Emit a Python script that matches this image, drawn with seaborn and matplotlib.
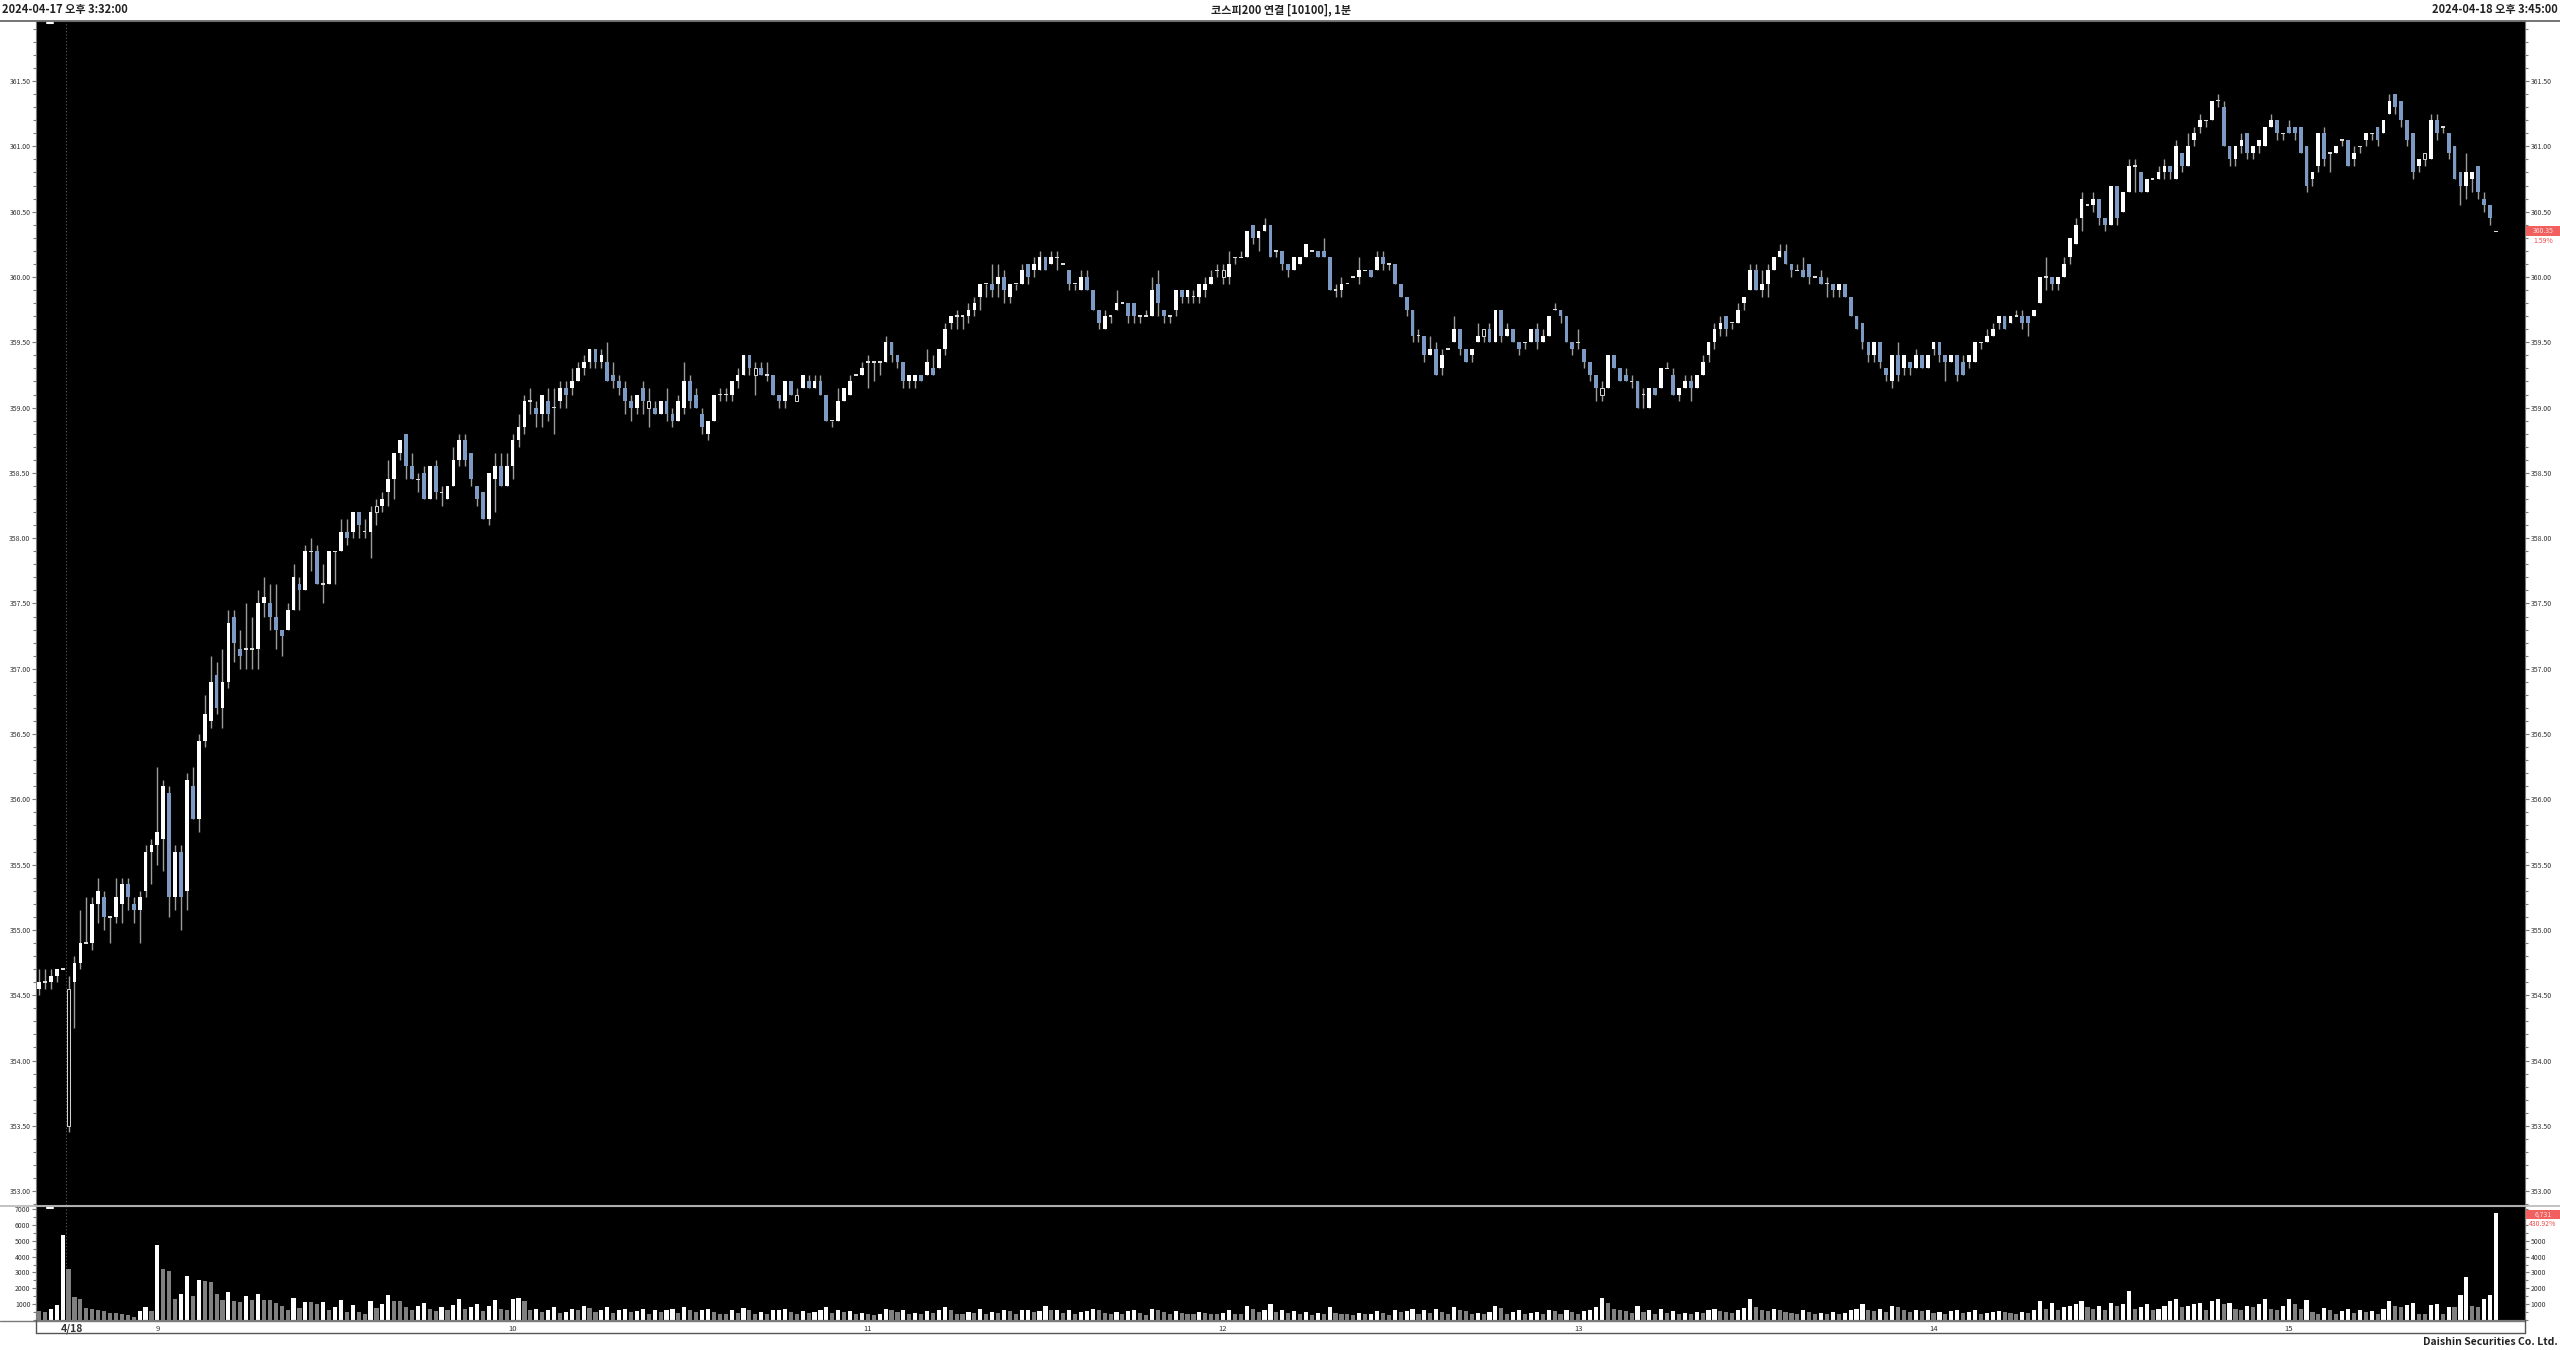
import numpy as np
import pandas as pd
import matplotlib
matplotlib.use('Agg')
import matplotlib.pyplot as plt
import seaborn as sns
from matplotlib.lines import Line2D
from matplotlib.patches import Rectangle
from matplotlib.ticker import MultipleLocator, FormatStrFormatter
import matplotlib.transforms as mtransforms

# 1분봉, 가격은 350.00 위로 0.05 틱 단위
open_t = [
    91, 92, 92, 93, 94, 70, 92, 95, 98, 98,
    104, 105, 102, 102, 104, 107, 104, 103, 106, 112,
    113, 114, 121, 105, 112, 106, 122, 117, 129, 132,
    139, 134, 138, 148, 143, 143, 143, 143, 150, 150,
    148, 146, 146, 149, 153, 152, 158, 158, 153, 153,
    158, 158, 161, 161, 164, 161, 161, 164, 165, 167,
    169, 173, 176, 171, 169, 170, 166, 171, 167, 166,
    168, 172, 175, 173, 168, 167, 163, 169, 171, 168,
    171, 175, 177, 181, 180, 179, 181, 180, 181, 183,
    183, 184, 186, 187, 189, 187, 187, 185, 184, 183,
    181, 180, 183, 180, 180, 179, 181, 179, 178, 180,
    184, 182, 179, 176, 178, 182, 182, 182, 184, 185,
    188, 185, 186, 185, 185, 182, 181, 184, 181, 183,
    184, 183, 184, 182, 178, 178, 181, 182, 185, 185,
    187, 187, 187, 187, 190, 188, 187, 184, 184, 185,
    185, 186, 186, 189, 193, 194, 194, 194, 195, 197,
    199, 199, 199, 200, 197, 199, 199, 202, 201, 201,
    203, 202, 203, 202, 201, 199, 198, 200, 198, 195,
    192, 194, 195, 196, 196, 196, 194, 194, 194, 199,
    195, 194, 195, 198, 197, 197, 197, 198, 199, 201,
    200, 200, 203, 203, 203, 208, 206, 207, 208, 204,
    204, 202, 201, 202, 203, 204, 204, 204, 203, 198,
    198, 199, 200, 200, 201, 201, 201, 203, 202, 202,
    199, 197, 195, 191, 191, 188, 189, 186, 189, 190,
    192, 189, 188, 190, 191, 192, 190, 195, 191, 192,
    190, 190, 190, 192, 190, 191, 195, 195, 194, 190,
    190, 189, 187, 185, 182, 183, 188, 186, 185, 184,
    184, 182, 180, 183, 183, 186, 185, 182, 183, 184,
    183, 185, 188, 190, 192, 194, 193, 193, 196, 198,
    201, 198, 199, 201, 203, 204, 202, 201, 201, 202,
    200, 200, 199, 199, 198, 199, 197, 194, 193, 190,
    188, 190, 186, 184, 188, 186, 187, 186, 188, 186,
    189, 190, 188, 187, 188, 187, 187, 187, 190, 190,
    191, 193, 194, 193, 194, 194, 194, 194, 196, 200,
    200, 199, 200, 203, 205, 209, 211, 211, 212, 209,
    208, 214, 210, 213, 217, 216, 213, 215, 215, 216,
    217, 215, 219, 217, 221, 223, 224, 224, 227, 226,
    220, 218, 220, 222, 219, 220, 220, 223, 224, 222,
    223, 223, 223, 220, 215, 217, 222, 219, 219, 221,
    221, 218, 220, 221, 222, 223, 222, 225, 228, 227,
    224, 222, 217, 218, 218, 224, 223, 222, 220, 216,
    214, 215, 217, 212, 211, 207,
]
high_t = [
    94, 94, 94, 94, 94, 93, 96, 103, 105, 105,
    108, 106, 102, 108, 108, 108, 105, 106, 113, 114,
    125, 123, 122, 113, 113, 124, 125, 130, 136, 142,
    141, 143, 149, 149, 146, 150, 148, 152, 154, 153,
    153, 146, 150, 156, 154, 159, 160, 159, 156, 158,
    158, 163, 163, 164, 164, 163, 165, 166, 167, 172,
    173, 175, 176, 173, 170, 171, 171, 172, 168, 168,
    174, 176, 176, 173, 168, 167, 170, 173, 173, 173,
    176, 179, 182, 183, 181, 182, 183, 183, 184, 184,
    186, 187, 188, 189, 189, 189, 190, 187, 185, 184,
    182, 182, 184, 183, 181, 181, 183, 180, 182, 187,
    185, 183, 180, 178, 182, 183, 183, 184, 186, 188,
    188, 187, 187, 187, 185, 182, 184, 184, 183, 185,
    185, 185, 185, 182, 178, 183, 183, 185, 185, 187,
    188, 187, 187, 191, 190, 188, 187, 185, 185, 185,
    189, 188, 189, 193, 194, 195, 194, 196, 197, 199,
    199, 202, 202, 201, 199, 199, 202, 202, 203, 204,
    203, 204, 204, 202, 201, 199, 201, 201, 198, 195,
    195, 194, 198, 196, 196, 196, 194, 195, 200, 201,
    195, 194, 198, 198, 198, 198, 199, 200, 201, 202,
    202, 204, 203, 204, 207, 208, 207, 209, 208, 204,
    204, 202, 203, 203, 205, 204, 204, 206, 203, 199,
    200, 199, 200, 203, 201, 201, 204, 204, 202, 202,
    199, 197, 195, 192, 191, 191, 190, 189, 189, 194,
    192, 189, 189, 193, 192, 193, 195, 195, 193, 192,
    190, 190, 192, 193, 192, 194, 196, 195, 194, 190,
    192, 189, 187, 185, 184, 188, 188, 186, 186, 185,
    184, 183, 183, 183, 186, 187, 186, 183, 185, 185,
    185, 188, 190, 193, 194, 194, 193, 196, 197, 202,
    202, 201, 202, 203, 205, 205, 202, 202, 203, 202,
    200, 201, 200, 199, 199, 199, 197, 194, 193, 190,
    190, 190, 186, 188, 190, 188, 187, 189, 188, 188,
    190, 190, 188, 188, 188, 188, 188, 190, 190, 192,
    193, 194, 194, 194, 195, 195, 194, 195, 200, 203,
    200, 200, 203, 206, 209, 213, 211, 213, 212, 209,
    214, 214, 213, 218, 218, 216, 215, 215, 217, 218,
    217, 221, 219, 222, 223, 225, 224, 227, 228, 227,
    220, 220, 222, 222, 220, 221, 223, 225, 224, 222,
    224, 223, 223, 220, 216, 222, 223, 219, 220, 221,
    221, 220, 220, 222, 222, 223, 224, 228, 228, 227,
    224, 222, 218, 219, 225, 225, 223, 222, 220, 216,
    219, 216, 217, 213, 211, 207,
]
low_t = [
    90, 91, 91, 92, 94, 69, 85, 94, 98, 97,
    101, 100, 98, 101, 101, 103, 101, 98, 105, 107,
    110, 109, 102, 103, 100, 103, 117, 115, 128, 131,
    133, 131, 137, 141, 140, 140, 140, 140, 148, 146,
    143, 142, 146, 149, 149, 152, 155, 153, 150, 153,
    153, 158, 159, 160, 160, 160, 157, 162, 164, 165,
    166, 172, 169, 169, 167, 166, 166, 166, 165, 166,
    168, 171, 171, 168, 165, 163, 162, 164, 168, 168,
    169, 174, 176, 179, 177, 177, 178, 176, 180, 180,
    182, 184, 185, 186, 186, 186, 184, 183, 182, 179,
    178, 179, 179, 177, 179, 179, 178, 177, 178, 179,
    180, 180, 176, 175, 178, 181, 181, 181, 183, 185,
    185, 182, 185, 184, 182, 180, 180, 182, 181, 183,
    183, 183, 182, 178, 177, 178, 181, 182, 185, 185,
    183, 184, 185, 187, 187, 186, 183, 183, 183, 184,
    185, 185, 186, 188, 192, 192, 192, 193, 194, 195,
    197, 197, 197, 196, 196, 198, 199, 199, 200, 201,
    201, 202, 201, 202, 198, 198, 198, 198, 195, 192,
    192, 193, 195, 196, 193, 193, 193, 194, 194, 194,
    193, 193, 194, 196, 196, 196, 196, 197, 199, 200,
    199, 199, 202, 203, 203, 205, 204, 207, 203, 203,
    201, 200, 201, 202, 203, 204, 203, 203, 198, 197,
    197, 199, 200, 199, 201, 200, 201, 201, 201, 199,
    197, 194, 190, 190, 187, 188, 185, 185, 189, 190,
    188, 187, 187, 190, 190, 190, 190, 190, 191, 190,
    188, 189, 190, 189, 190, 191, 195, 193, 190, 188,
    189, 186, 184, 181, 181, 183, 186, 184, 184, 183,
    180, 180, 180, 182, 183, 186, 182, 181, 183, 181,
    183, 185, 187, 189, 191, 191, 192, 193, 195, 198,
    198, 197, 197, 201, 203, 202, 200, 201, 200, 199,
    200, 199, 197, 197, 197, 197, 194, 192, 189, 187,
    187, 186, 184, 183, 184, 185, 185, 186, 186, 186,
    188, 187, 184, 187, 184, 185, 186, 187, 189, 190,
    191, 192, 192, 193, 194, 192, 191, 194, 196, 198,
    198, 198, 200, 202, 205, 207, 211, 210, 208, 207,
    208, 208, 210, 213, 213, 213, 213, 215, 215, 215,
    215, 215, 216, 217, 220, 222, 223, 224, 226, 220,
    217, 217, 219, 218, 218, 219, 220, 223, 221, 221,
    222, 221, 219, 213, 214, 216, 217, 216, 219, 220,
    217, 217, 219, 220, 221, 220, 222, 225, 225, 223,
    220, 215, 216, 217, 218, 221, 222, 218, 215, 211,
    212, 213, 212, 210, 208, 207,
]
close_t = [
    92, 92, 93, 94, 94, 91, 95, 98, 98, 104,
    106, 102, 102, 105, 107, 105, 103, 105, 112, 113,
    115, 122, 105, 112, 105, 123, 117, 129, 133, 138,
    134, 138, 147, 144, 142, 143, 143, 150, 151, 148,
    146, 145, 149, 154, 152, 158, 158, 153, 153, 158,
    158, 161, 160, 164, 162, 161, 164, 165, 166, 169,
    173, 175, 171, 169, 169, 166, 171, 167, 167, 168,
    172, 175, 172, 169, 166, 163, 170, 171, 168, 171,
    175, 177, 181, 181, 179, 182, 179, 180, 183, 182,
    184, 186, 187, 189, 187, 188, 184, 184, 183, 181,
    180, 182, 181, 181, 179, 181, 179, 178, 181, 184,
    181, 180, 177, 178, 182, 182, 182, 184, 185, 188,
    186, 186, 185, 185, 182, 181, 184, 182, 182, 185,
    183, 184, 182, 178, 178, 181, 183, 184, 185, 186,
    187, 187, 187, 190, 188, 187, 184, 185, 185, 184,
    187, 185, 189, 192, 194, 194, 194, 195, 196, 199,
    199, 198, 200, 198, 199, 199, 201, 200, 202, 203,
    201, 203, 203, 202, 199, 199, 200, 198, 195, 193,
    194, 194, 196, 196, 194, 194, 194, 194, 198, 196,
    194, 194, 198, 197, 198, 197, 199, 199, 200, 201,
    201, 202, 203, 203, 207, 206, 207, 208, 203, 204,
    202, 201, 203, 203, 205, 204, 203, 203, 198, 198,
    199, 199, 200, 201, 201, 200, 203, 202, 202, 199,
    197, 195, 191, 191, 188, 189, 185, 188, 189, 192,
    189, 187, 189, 191, 192, 190, 195, 191, 192, 190,
    189, 190, 192, 190, 191, 194, 195, 194, 190, 189,
    190, 187, 185, 183, 183, 188, 186, 184, 184, 184,
    180, 182, 183, 182, 186, 186, 182, 183, 184, 183,
    185, 187, 190, 192, 193, 192, 193, 195, 197, 201,
    198, 199, 201, 203, 204, 202, 201, 201, 200, 200,
    200, 199, 199, 198, 199, 197, 194, 192, 190, 188,
    190, 187, 185, 188, 185, 188, 186, 188, 186, 188,
    190, 188, 187, 188, 185, 185, 188, 190, 190, 191,
    192, 194, 192, 194, 194, 193, 193, 195, 200, 200,
    199, 200, 202, 206, 208, 212, 211, 212, 209, 208,
    214, 209, 213, 217, 217, 213, 215, 215, 216, 217,
    216, 220, 217, 220, 222, 224, 224, 227, 227, 220,
    218, 220, 221, 219, 220, 221, 223, 224, 222, 222,
    222, 222, 219, 214, 216, 222, 218, 219, 220, 221,
    217, 219, 220, 222, 222, 221, 224, 227, 226, 224,
    221, 216, 218, 219, 224, 222, 223, 219, 215, 214,
    216, 216, 213, 211, 209, 207,
]
hollow_idx = [5, 57, 103, 121, 128, 200, 244, 264, 403]

volume = [
    570, 530, 700, 950, 5370, 3220, 1430, 1330, 780, 700,
    630, 590, 460, 420, 380, 340, 210, 570, 800, 590,
    4740, 3220, 3090, 1330, 1620, 2780, 1520, 2510, 2460, 2400,
    1620, 1260, 1750, 1220, 1110, 1500, 1260, 1620, 1260, 1240,
    1070, 880, 650, 1370, 740, 1110, 1110, 990, 1160, 630,
    820, 1240, 505, 930, 530, 400, 1200, 760, 990, 1580,
    1220, 1200, 800, 650, 900, 1100, 700, 550, 800, 600,
    950, 1300, 700, 800, 1000, 550, 900, 1250, 700, 650,
    1300, 1400, 1200, 600, 700, 500, 600, 800, 450, 500,
    700, 600, 900, 750, 500, 650, 800, 450, 600, 700,
    500, 550, 700, 400, 600, 500, 650, 700, 450, 800,
    600, 500, 650, 700, 500, 400, 350, 600, 450, 750,
    600, 400, 500, 350, 600, 650, 700, 500, 400, 550,
    450, 500, 600, 800, 450, 650, 500, 550, 400, 450,
    350, 300, 350, 700, 600, 500, 650, 400, 450, 350,
    550, 450, 600, 800, 600, 400, 350, 500, 450, 700,
    400, 500, 450, 600, 550, 350, 600, 650, 500, 550,
    900, 600, 650, 450, 600, 400, 500, 550, 700, 650,
    450, 350, 500, 400, 550, 600, 450, 300, 700, 650,
    500, 400, 550, 450, 400, 350, 500, 450, 400, 350,
    450, 600, 400, 350, 900, 700, 500, 650, 1000, 500,
    600, 450, 550, 400, 500, 300, 450, 400, 800, 450,
    400, 350, 300, 450, 350, 400, 550, 450, 300, 600,
    500, 550, 700, 400, 650, 450, 700, 500, 350, 800,
    600, 550, 400, 450, 350, 500, 900, 750, 400, 500,
    600, 350, 450, 500, 400, 600, 550, 400, 650, 500,
    400, 550, 600, 800, 1400, 1100, 700, 600, 550, 450,
    900, 500, 650, 400, 700, 450, 550, 400, 450, 350,
    500, 450, 600, 700, 550, 500, 450, 600, 750, 1300,
    800, 600, 550, 700, 650, 500, 450, 400, 600, 500,
    400, 450, 400, 500, 350, 450, 600, 700, 1000, 650,
    550, 700, 500, 900, 800, 600, 500, 650, 550, 600,
    450, 500, 400, 550, 650, 450, 500, 600, 400, 450,
    500, 550, 500, 450, 400, 500, 450, 600, 1200, 700,
    1100, 600, 800, 900, 1000, 1200, 800, 700, 900, 600,
    1100, 900, 1000, 1800, 700, 800, 1000, 600, 700, 900,
    1200, 1300, 800, 900, 1000, 1100, 600, 1200, 1300, 1000,
    1100, 700, 600, 900, 800, 1000, 1300, 700, 600, 900,
    1300, 1000, 700, 1250, 500, 400, 750, 600, 350, 550,
    700, 450, 650, 500, 550, 400, 700, 1200, 900, 800,
    950, 1050, 400, 400, 950, 1000, 400, 800, 800, 1600,
    2700, 900, 850, 1300, 1550, 6731,
]

hour_labels = ['9', '10', '11', '12', '13', '14', '15']
hour_pos = [20, 80, 140, 200, 260, 320, 380]
day_label = '4/18'
day_pos = 5.6
day_break = 4.5

last_price = '360.35'
last_change = '1.59%'
last_volume = '6,731'
volume_change = '430.92%'

print('lengths', len(open_t), len(high_t), len(low_t), len(close_t), len(volume))
n = min(len(open_t), len(high_t), len(low_t), len(close_t), len(volume))

sns.set_theme(style='white')
plt.rcParams['font.family'] = ['Noto Sans CJK KR', 'DejaVu Sans']

o = 350 + 0.05 * np.array(open_t[:n], dtype=float)
c = 350 + 0.05 * np.array(close_t[:n], dtype=float)
h = 350 + 0.05 * np.array(high_t[:n], dtype=float)
l = 350 + 0.05 * np.array(low_t[:n], dtype=float)
h = np.maximum(h, np.maximum(o, c))
l = np.minimum(l, np.minimum(o, c))
vol = np.array(volume[:n], dtype=float)
idx = np.arange(n)

W, H = 2560, 1350
def fx(px):
    return px / W
def fy(py):
    return 1 - py / H

fig = plt.figure(figsize=(25.6, 13.5), dpi=100, facecolor='white')
axp = fig.add_axes([fx(36), fy(1205), (2525 - 36) / W, (1205 - 21) / H])
axv = fig.add_axes([fx(36), fy(1320), (2525 - 36) / W, (1320 - 1206) / H])

for ax in (axp, axv):
    ax.set_facecolor('black')
    for s in ax.spines.values():
        s.set_color('#7a7a7a')
        s.set_linewidth(0.8)

# candles
hollow = np.zeros(n, dtype=bool)
hollow[[i for i in hollow_idx if i < n]] = True
up = (c > o) & ~hollow
down = c < o
flat = (c == o) & ~hollow
bw = 0.64
axp.vlines(idx, l, h, color='#9c9c9c', lw=1.0, zorder=1)
axp.bar(idx[up], (c - o)[up], bottom=o[up], width=bw, color='white', lw=0, zorder=2)
axp.bar(idx[down], (o - c)[down], bottom=c[down], width=bw, color='#7c9ac4', lw=0, zorder=2)
axp.bar(idx[flat], 0.011, bottom=c[flat] - 0.0055, width=bw, color='#dcdcdc', lw=0, zorder=2)
axp.bar(idx[hollow], np.abs(c - o)[hollow], bottom=np.minimum(o, c)[hollow], width=bw - 0.12,
        facecolor='black', edgecolor='#d8d8d8', lw=0.7, zorder=2)

axp.set_xlim(-0.5, 419.9)
axp.set_ylim(352.894, 361.96)
axp.set_yticks(np.arange(353.0, 361.51, 0.5))
axp.yaxis.set_minor_locator(MultipleLocator(0.1))
axp.yaxis.set_major_formatter(FormatStrFormatter('%.2f'))
axp.tick_params(axis='y', which='both', left=True, right=True, labelleft=True, labelright=True,
                direction='out', colors='#7a7a7a', labelcolor='#333333', labelsize=5,
                width=0.8, pad=1)
axp.tick_params(axis='y', which='major', length=3)
axp.tick_params(axis='y', which='minor', length=2)
axp.tick_params(axis='x', bottom=False, labelbottom=False)
axp.axvline(day_break, color='#5a5a5a', ls=(0, (1, 2)), lw=0.8, zorder=0)
axp.grid(False)

# volume
prev = np.concatenate([[np.inf], vol[:-1]])
vdf = pd.DataFrame({'idx': idx, 'vol': vol, 'grp': np.where(vol > prev, 'up', 'down')})
sns.barplot(data=vdf, x='idx', y='vol', hue='grp', palette={'up': 'white', 'down': '#808080'},
            dodge=False, native_scale=True, width=0.7, legend=False, errorbar=None,
            saturation=1, linewidth=0, ax=axv)
axv.set_xlim(-0.5, 419.9)
axv.set_ylim(0, 7190)
axv.set_xlabel('')
axv.set_ylabel('')
axv.set_yticks(np.arange(1000, 7001, 1000))
axv.yaxis.set_minor_locator(MultipleLocator(500))
axv.yaxis.set_major_formatter(FormatStrFormatter('%d'))
axv.tick_params(axis='y', which='both', left=True, right=False, labelleft=True, labelright=False,
                direction='out', colors='#7a7a7a', labelcolor='#333333', labelsize=5,
                width=0.8, pad=1)
axv.tick_params(axis='y', which='major', length=3)
axv.tick_params(axis='y', which='minor', length=2)
axv.tick_params(axis='x', bottom=False, labelbottom=False)
axv.axvline(day_break, color='#5a5a5a', ls=(0, (1, 2)), lw=0.8, zorder=0)
axv.grid(False)

# right volume scale: the top two labels sit under the last-volume box
axr = axv.twinx()
axr.set_ylim(0, 7190)
axr.set_yticks(np.arange(1000, 5001, 1000))
axr.yaxis.set_minor_locator(MultipleLocator(500))
axr.yaxis.set_major_formatter(FormatStrFormatter('%d'))
axr.tick_params(axis='y', which='both', right=True, labelright=True, direction='out',
                colors='#7a7a7a', labelcolor='#333333', labelsize=5, width=0.8, pad=1)
axr.tick_params(axis='y', which='major', length=3)
axr.tick_params(axis='y', which='minor', length=2)
axr.grid(False)
for s in axr.spines.values():
    s.set_color('#7a7a7a')
    s.set_linewidth(0.8)

# time labels under the volume panel
tr = mtransforms.blended_transform_factory(axv.transData, axv.transAxes)
axv.text(day_pos, -0.079, day_label, transform=tr, ha='center', va='center',
         fontsize=7.5, fontweight='bold', color='#333333', clip_on=False)
for p, s in zip(hour_pos, hour_labels):
    axv.text(p, -0.079, s, transform=tr, ha='center', va='center', fontsize=5.5,
             color='#333333', clip_on=False)

# frame lines
fig.add_artist(Line2D([0, 1], [fy(20.5), fy(20.5)], color='#6a6a6a', lw=1.3))
fig.add_artist(Line2D([0, 1], [fy(1205.5), fy(1205.5)], color='#b8b8b8', lw=1.2))
fig.add_artist(Line2D([0, fx(2525)], [fy(1320.5), fy(1320.5)], color='#7a7a7a', lw=1))
fig.add_artist(Line2D([fx(36), fx(2525)], [fy(1333), fy(1333)], color='#555555', lw=1))
fig.add_artist(Line2D([fx(36), fx(36)], [fy(1320), fy(1333)], color='#555555', lw=1))
fig.add_artist(Line2D([fx(2525), fx(2525)], [fy(1320), fy(1333)], color='#555555', lw=1))
# small scroll markers at the top left of each panel
fig.add_artist(Line2D([fx(47), fx(53)], [fy(22.5), fy(22.5)], color='white', lw=1.5, zorder=4))
fig.add_artist(Line2D([fx(47), fx(53)], [fy(1207.5), fy(1207.5)], color='white', lw=1.5, zorder=4))

# header
hdr = dict(fontsize=8, fontweight='bold', color='#222222', va='center')
fig.text(fx(2), fy(10), '2024-04-17 오후 3:32:00', ha='left', **hdr)
fig.text(fx(1281), fy(10), '코스피200 연결 [10100], 1분', ha='center', **hdr)
fig.text(fx(2558), fy(10), '2024-04-18 오후 3:45:00', ha='right', **hdr)
fig.text(fx(2558), fy(1342), 'Daishin Securities Co. Ltd.', ha='right', va='center',
         fontsize=7.5, fontweight='bold', color='#222222')

# last value boxes on the right
fig.add_artist(Rectangle((fx(2526), fy(235.5)), 34 / W, 9 / H, transform=fig.transFigure,
                         facecolor='#f25f5f', edgecolor='none', zorder=5))
fig.text(fx(2543), fy(231), last_price, ha='center', va='center', fontsize=5,
         color='#ffe0e0', zorder=6)
fig.text(fx(2543), fy(241), last_change, ha='center', va='center', fontsize=5,
         color='#f04848', zorder=6)
fig.add_artist(Rectangle((fx(2526), fy(1219)), 34 / W, 9 / H, transform=fig.transFigure,
                         facecolor='#f25f5f', edgecolor='none', zorder=5))
fig.text(fx(2543), fy(1214.5), last_volume, ha='center', va='center', fontsize=5,
         color='#ffe0e0', zorder=6)
fig.text(fx(2543), fy(1224.5), volume_change, ha='center', va='center', fontsize=5,
         color='#f04848', zorder=6)

fig.savefig('out.png', dpi=100, facecolor='white')
